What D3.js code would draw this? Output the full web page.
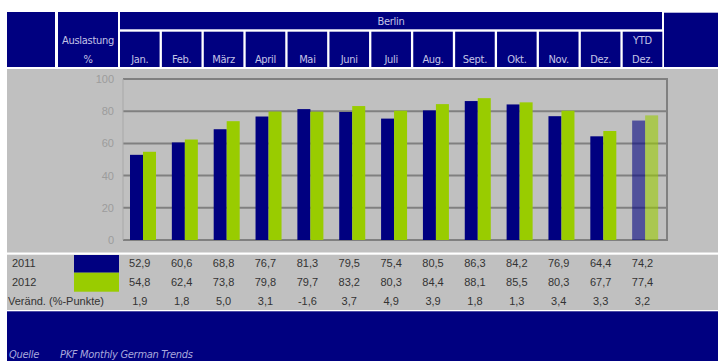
<!DOCTYPE html>
<html>
<head>
<meta charset="utf-8">
<script src="https://cdn.jsdelivr.net/npm/d3@7/dist/d3.min.js"></script>
<style>
  html, body { margin: 0; padding: 0; background: #ffffff; }
  svg { display: block; }
  .hdr { font-family: "Liberation Sans Narrow", "DejaVu Sans Condensed", "Roboto Condensed", sans-serif; font-size: 11px; letter-spacing: -0.3px; fill: #c4c4e6; }
  .tbl { font-family: "Liberation Sans", Arial, sans-serif; font-size: 11px; fill: #333333; }
  .tick { font-family: "Liberation Sans", Arial, sans-serif; font-size: 11px; fill: #9c9c9c; }
  .src { font-family: "Liberation Sans Narrow", "DejaVu Sans Condensed", sans-serif; font-size: 11px; letter-spacing: -0.3px; font-style: italic; fill: #a8a8dc; }
</style>
</head>
<body>
<svg id="chart" width="718" height="361"></svg>
<script>
// Hotel occupancy Berlin, 2011 vs 2012 (%)
const months = ["Jan.", "Feb.", "März", "April", "Mai", "Juni", "Juli", "Aug.", "Sept.", "Okt.", "Nov.", "Dez.", "YTD|Dez."];
const years = ["2011", "2012"];
const values2011 = [52.9, 60.6, 68.8, 76.7, 81.3, 79.5, 75.4, 80.5, 86.3, 84.2, 76.9, 64.4, 74.2];
const values2012 = [54.8, 62.4, 73.8, 79.8, 79.7, 83.2, 80.3, 84.4, 88.1, 85.5, 80.3, 67.7, 77.4];
const changes = [1.9, 1.8, 5.0, 3.1, -1.6, 3.7, 4.9, 3.9, 1.8, 1.3, 3.4, 3.3, 3.2];
const yTicks = [0, 20, 40, 60, 80, 100];
const city = "Berlin";
const unitLabel = ["Auslastung", "%"];
const changeLabel = "Veränd. (%-Punkte)";
const sourceLabel = "Quelle";
const sourceText = "PKF Monthly German Trends";

const navy = "#000080";
const green = "#99cc00";
const panel = "#c0c0c0";

const svg = d3.select("#chart");
const de = d3.formatLocale({ decimal: ",", thousands: ".", grouping: [3], currency: ["", " €"], minus: "-" });
const fmt = de.format(".1f");

// ---- header band ----
svg.append("rect").attr("x", 7).attr("y", 12).attr("width", 48).attr("height", 55).attr("fill", navy);
svg.append("rect").attr("x", 58).attr("y", 12).attr("width", 60).attr("height", 55).attr("fill", navy);
svg.append("rect").attr("x", 120).attr("y", 12).attr("width", 542).attr("height", 17.3).attr("fill", navy);
svg.append("rect").attr("x", 664).attr("y", 12.7).attr("width", 54).attr("height", 54.3).attr("fill", navy);

svg.append("text").attr("class", "hdr").attr("x", 88).attr("y", 44).attr("text-anchor", "middle").text(unitLabel[0]);
svg.append("text").attr("class", "hdr").attr("x", 88).attr("y", 63).attr("text-anchor", "middle").text(unitLabel[1]);
svg.append("text").attr("class", "hdr").attr("x", 391).attr("y", 25).attr("text-anchor", "middle").text(city);

const xHead = d3.scaleBand().domain(months).range([120, 662.3]).paddingInner(0.055).paddingOuter(0);

const cells = svg.append("g").selectAll("g").data(months).join("g");
cells.append("rect")
  .attr("x", d => xHead(d)).attr("y", 31.7)
  .attr("width", xHead.bandwidth()).attr("height", 35.3)
  .attr("fill", navy);
cells.each(function (d) {
  const parts = d.split("|");
  const g = d3.select(this);
  parts.forEach((p, k) => {
    g.append("text").attr("class", "hdr")
      .attr("x", xHead(d) + xHead.bandwidth() / 2)
      .attr("y", 63 - (parts.length - 1 - k) * 19)
      .attr("text-anchor", "middle").text(p);
  });
});

// ---- chart panel ----
svg.append("rect").attr("x", 7).attr("y", 69).attr("width", 711).attr("height", 183.5).attr("fill", panel);

const x0 = d3.scaleBand().domain(months).range([123, 667]);
const x1 = d3.scaleBand().domain(years).range([7, 33]);
const y = d3.scaleLinear().domain([0, 100]).range([240, 79]);

// gridlines
svg.append("g").selectAll("line").data(yTicks).join("line")
  .attr("x1", 123).attr("x2", 667)
  .attr("y1", d => y(d)).attr("y2", d => y(d))
  .attr("stroke", "#808080").attr("stroke-width", 2);

// axis line and right frame
svg.append("line").attr("x1", 123).attr("x2", 123).attr("y1", y(100)).attr("y2", y(0))
  .attr("stroke", "#a8a8a8").attr("stroke-width", 1);
svg.append("line").attr("x1", 667).attr("x2", 667).attr("y1", y(100) - 1).attr("y2", y(0) + 1)
  .attr("stroke", "#808080").attr("stroke-width", 2);

// y tick labels
const yAxis = d3.axisLeft(y).tickValues(yTicks).tickSize(0).tickPadding(9);
const gy = svg.append("g").attr("transform", "translate(123,0)").call(yAxis);
gy.select(".domain").remove();
gy.selectAll("text").attr("class", "tick").attr("fill", null).attr("font-family", null).attr("font-size", null);

// bars
const series = [values2011, values2012];
const colors = [navy, green];
const groups = svg.append("g").selectAll("g").data(months).join("g")
  .attr("transform", d => `translate(${x0(d)},0)`);
groups.selectAll("rect")
  .data((d, i) => years.map((yr, k) => ({ yr, v: series[k][i], ytd: i === months.length - 1, k })))
  .join("rect")
  .attr("x", d => x1(d.yr))
  .attr("width", x1.bandwidth())
  .attr("y", d => y(d.v))
  .attr("height", d => y(0) - y(d.v))
  .attr("fill", d => colors[d.k])
  .attr("fill-opacity", d => d.ytd ? 0.58 : 1);

// ---- data table ----
svg.append("rect").attr("x", 7).attr("y", 254.7).attr("width", 711).attr("height", 55.3).attr("fill", panel);
svg.append("rect").attr("x", 74).attr("y", 255).attr("width", 45).attr("height", 17.7).attr("fill", navy);
svg.append("rect").attr("x", 74).attr("y", 272.7).attr("width", 45).attr("height", 19).attr("fill", green);

const rowLabels = [years[0], years[1], changeLabel];
const rowY = [267, 286, 304.5];
const rowX = [12, 12, 8];
rowLabels.forEach((t, r) => {
  svg.append("text").attr("class", "tbl").attr("x", rowX[r]).attr("y", rowY[r]).text(t);
});
[values2011, values2012, changes].forEach((row, r) => {
  svg.append("g").selectAll("text").data(row).join("text")
    .attr("class", "tbl")
    .attr("x", (d, i) => xHead(months[i]) + xHead.bandwidth() / 2)
    .attr("y", rowY[r])
    .attr("text-anchor", "middle")
    .text(d => fmt(d));
});

// ---- footer ----
svg.append("rect").attr("x", 7).attr("y", 311.3).attr("width", 711).attr("height", 50).attr("fill", navy);
svg.append("text").attr("class", "src").attr("x", 9).attr("y", 358).text(sourceLabel);
svg.append("text").attr("class", "src").attr("x", 60).attr("y", 358).text(sourceText);
</script>
</body>
</html>
